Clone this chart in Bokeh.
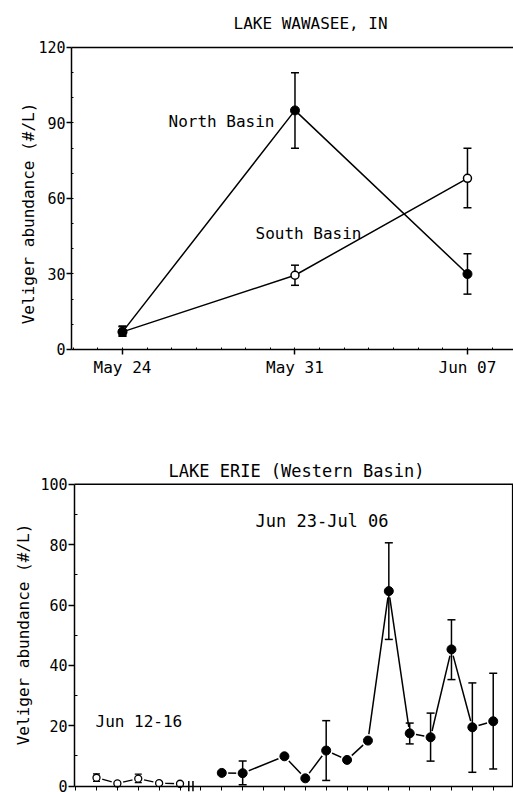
from datetime import date
from bokeh.plotting import figure
from bokeh.models import FixedTicker, Label, Range1d
from bokeh.layouts import column
from bokeh.embed import file_html
from bokeh.resources import INLINE

FONT = "DejaVu Sans Mono"

# ---------------- Lake Wawasee data ----------------
wawasee_dates = ["May 24", "May 31", "Jun 07"]
wawasee_days = [0, 7, 14]            # days since May 24
north_mean = [7.0, 95.0, 30.0]
north_lo = [5.3, 80.0, 22.0]
north_hi = [9.3, 110.0, 38.0]
south_mean = [7.0, 29.5, 68.0]
south_lo = [5.5, 25.5, 56.3]
south_hi = [9.0, 33.5, 80.0]
wawasee_yticks = [0, 30, 60, 90, 120]

# ---------------- Lake Erie data ----------------
erie_early_dates = ["2000-06-12", "2000-06-13", "2000-06-14", "2000-06-15", "2000-06-16"]
erie_early_mean = [2.8, 0.9, 2.5, 1.0, 0.8]
erie_early_lo = [1.6, 0.6, 1.2, 0.7, 0.5]
erie_early_hi = [4.1, 1.2, 4.0, 1.3, 1.1]

erie_late_dates = ["2000-06-23", "2000-06-24", "2000-06-26", "2000-06-27", "2000-06-28",
                   "2000-06-29", "2000-06-30", "2000-07-01", "2000-07-02", "2000-07-03",
                   "2000-07-04", "2000-07-05", "2000-07-06"]
erie_late_mean = [4.4, 4.3, 9.9, 2.6, 11.8, 8.7, 15.1, 64.6, 17.5, 16.2, 45.3, 19.5, 21.5]
erie_late_lo = [None, 0.5, None, None, 1.9, None, None, 48.6, 14.0, 8.3, 35.3, 4.6, 5.7]
erie_late_hi = [None, 8.3, None, None, 21.7, None, None, 80.6, 20.9, 24.2, 55.1, 34.2, 37.4]
erie_yticks = [0, 20, 40, 60, 80, 100]


def slots_early(ds):
    return [date.fromisoformat(d).day - 12 for d in ds]


def slots_late(ds):
    base = date.fromisoformat("2000-06-23")
    return [(date.fromisoformat(d) - base).days + 6 for d in ds]


def err_bars(p, xs, lo, hi, cap=8, lw=1.5):
    ex = [x for x, a in zip(xs, lo) if a is not None]
    elo = [a for a in lo if a is not None]
    ehi = [b for b in hi if b is not None]
    p.segment(x0=ex, y0=elo, x1=ex, y1=ehi, line_color="black", line_width=lw)
    p.scatter(x=ex + ex, y=elo + ehi, marker="dash", size=cap, line_color="black", line_width=lw)


def style_axes(p):
    for ax in p.axis:
        ax.axis_line_width = 1.5
        ax.major_tick_line_width = 1.5
        ax.minor_tick_line_width = 1
        ax.major_label_text_font = FONT
        ax.major_label_text_color = "black"
        ax.axis_line_color = "black"
        ax.major_tick_line_color = "black"
        ax.minor_tick_line_color = "black"


def add_text(p, txt, x, y, fs, angle=0, align="left"):
    p.add_layout(Label(x=x, y=y, x_units="screen", y_units="screen", text=txt,
                       angle=angle, angle_units="deg",
                       text_font=FONT, text_font_size=fs, text_color="black",
                       text_baseline="alphabetic", text_align=align))


def bare_figure(w, h, xr, yr):
    p = figure(width=w, height=h, output_backend="svg", toolbar_location=None,
               x_range=Range1d(*xr), y_range=Range1d(*yr),
               min_border_left=0, min_border_right=0, min_border_top=0, min_border_bottom=0)
    p.grid.visible = False
    p.outline_line_color = None
    return p


# ================= Top chart =================
H1 = 444
# frame spans the whole figure; axes are pinned inside it
p1 = bare_figure(513, H1, (-4.951, 15.868), (-37.75, 138.67))
X0_1, X1_1 = -2.07, 15.868

p1.xaxis.fixed_location = 0
p1.xaxis.bounds = (X0_1, X1_1)
p1.xaxis.ticker = FixedTicker(ticks=wawasee_days, minor_ticks=list(range(-2, 16)))
p1.xaxis.major_label_overrides = {d: lab for d, lab in zip(wawasee_days, wawasee_dates)}
p1.xaxis.major_tick_out = 5
p1.xaxis.major_tick_in = 0
p1.xaxis.minor_tick_in = 2
p1.xaxis.minor_tick_out = 0
p1.xaxis.major_label_standoff = 4
p1.xaxis.major_label_text_font_size = "16px"

p1.yaxis.fixed_location = X0_1
p1.yaxis.bounds = (0, 120)
p1.yaxis.ticker = FixedTicker(ticks=wawasee_yticks, minor_ticks=list(range(10, 120, 10)))
p1.yaxis.major_tick_out = 5
p1.yaxis.major_tick_in = 0
p1.yaxis.minor_tick_in = 2
p1.yaxis.minor_tick_out = 0
p1.yaxis.major_label_standoff = 1
p1.yaxis.major_label_text_font_size = "15px"
style_axes(p1)

# top border of the plotting box
p1.segment(x0=[X0_1], y0=[120], x1=[X1_1], y1=[120], line_color="black", line_width=1.5)

p1.line(wawasee_days, south_mean, line_color="black", line_width=1.5)
p1.line(wawasee_days, north_mean, line_color="black", line_width=1.5)
err_bars(p1, wawasee_days, south_lo, south_hi, cap=8)
err_bars(p1, wawasee_days, north_lo, north_hi, cap=8)
p1.scatter(wawasee_days, south_mean, size=8, fill_color="white", line_color="black", line_width=1.5)
p1.scatter(wawasee_days, north_mean, size=9, fill_color="black", line_color="black")

add_text(p1, "LAKE WAWASEE, IN", 233, H1 - 22.7, "16px")
add_text(p1, "North Basin", 168, H1 - 120.5, "16px")
add_text(p1, "South Basin", 255, H1 - 233.3, "16px")
add_text(p1, "Veliger abundance (#/L)", 27.5, H1 - 213, "16px", angle=90, align="center")

# ================= Bottom chart =================
H2 = 792 - H1
TOP2 = H1
p2 = bare_figure(513, H2, (-4.598, 19.971), (-2.09, 113.15))
X0_2, X1_2 = -1.054, 19.93

p2.xaxis.fixed_location = 0
p2.xaxis.bounds = (X0_2, 19.971)
p2.xaxis.ticker = FixedTicker(ticks=[], minor_ticks=list(range(-1, 20)))
p2.xaxis.minor_tick_out = 4
p2.xaxis.minor_tick_in = 0

p2.yaxis.fixed_location = X0_2
p2.yaxis.bounds = (0, 100)
p2.yaxis.ticker = FixedTicker(ticks=erie_yticks, minor_ticks=list(range(10, 100, 20)))
p2.yaxis.major_tick_out = 6
p2.yaxis.major_tick_in = 0
p2.yaxis.minor_tick_in = 3
p2.yaxis.minor_tick_out = 0
p2.yaxis.major_label_standoff = 1
p2.yaxis.major_label_text_font_size = "15px"
style_axes(p2)

# top and right borders of the plotting box
p2.segment(x0=[X0_2, X1_2], y0=[100, 0], x1=[19.971, X1_2], y1=[100, 100],
           line_color="black", line_width=1.5)

xe = slots_early(erie_early_dates)
xl = slots_late(erie_late_dates)

p2.line(xe, erie_early_mean, line_color="black", line_width=1.3)
p2.line(xl, erie_late_mean, line_color="black", line_width=1.5)
# white halos that leave small gaps where lines meet markers
p2.scatter(xe, erie_early_mean, size=12, fill_color="white", line_color=None)
p2.scatter(xl, erie_late_mean, size=13, fill_color="white", line_color=None)
err_bars(p2, xe, erie_early_lo, erie_early_hi, cap=7, lw=1.3)
err_bars(p2, xl, erie_late_lo, erie_late_hi, cap=8)
p2.scatter(xe, erie_early_mean, size=7, fill_color="white", line_color="black", line_width=1.3)
p2.scatter(xl, erie_late_mean, size=9, fill_color="black", line_color="black")

# axis break marks
p2.segment(x0=[4.42, 4.62], y0=[-1.7, -1.7], x1=[4.42, 4.62], y1=[1.7, 1.7],
           line_color="black", line_width=1.5)

add_text(p2, "LAKE ERIE (Western Basin)", 168, H2 - (470.7 - TOP2), "17px")
add_text(p2, "Jun 23-Jul 06", 255, H2 - (520.7 - TOP2), "17px")
add_text(p2, "Jun 12-16", 95, H2 - (721 - TOP2), "16px")
add_text(p2, "Veliger abundance (#/L)", 23.3, H2 - (634 - TOP2), "16px", angle=90, align="center")

layout = column(p1, p2, spacing=0)
open("out.html", "w").write(file_html(layout, INLINE))
